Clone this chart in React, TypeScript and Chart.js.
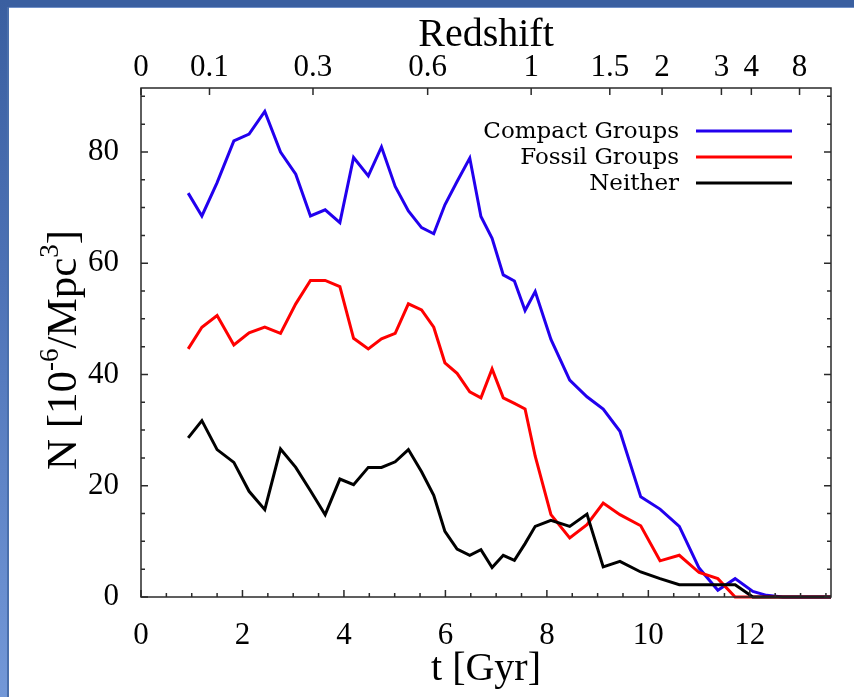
import { useEffect, useRef } from 'react';
import { Chart, registerables } from 'chart.js';

Chart.register(...registerables);

// Lookback time of each snapshot (Gyr)
const timeGyr = [0.93, 1.2, 1.5, 1.83, 2.13, 2.44, 2.75, 3.05, 3.34, 3.63, 3.92, 4.19, 4.48, 4.74, 5.01, 5.27, 5.53, 5.77, 5.99, 6.23, 6.48, 6.7, 6.92, 7.14, 7.36, 7.57, 7.77, 8.08, 8.45, 8.79, 9.11, 9.44, 9.85, 10.23, 10.61, 11.0, 11.37, 11.71, 12.06, 12.33, 12.65, 12.95, 13.25, 13.6];

const compactGroups = [72.6, 68.5, 74.5, 82.0, 83.2, 87.3, 80.0, 76.0, 68.5, 69.6, 67.3, 79.0, 75.7, 80.9, 73.8, 69.4, 66.4, 65.3, 70.5, 74.7, 78.9, 68.4, 64.5, 57.9, 56.8, 51.5, 54.9, 46.3, 39.0, 36.0, 33.8, 29.8, 18.0, 15.8, 12.7, 5.2, 1.2, 3.3, 1.0, 0.3, 0, 0, 0, 0];

const fossilGroups = [44.6, 48.5, 50.6, 45.3, 47.5, 48.5, 47.4, 52.7, 56.9, 56.9, 55.8, 46.5, 44.6, 46.4, 47.4, 52.7, 51.6, 48.5, 42.1, 40.2, 36.9, 35.8, 41.0, 35.8, 34.8, 33.8, 25.3, 14.8, 10.6, 13.0, 16.9, 14.8, 12.8, 6.5, 7.5, 4.4, 3.3, 0, 0, 0, 0, 0, 0, 0];

const neither = [28.6, 31.7, 26.5, 24.2, 19.0, 15.7, 26.6, 23.3, 19.1, 14.8, 21.2, 20.2, 23.3, 23.3, 24.3, 26.5, 22.5, 18.3, 11.8, 8.6, 7.5, 8.5, 5.3, 7.5, 6.6, 9.6, 12.7, 13.8, 12.7, 14.9, 5.4, 6.4, 4.5, 3.3, 2.2, 2.2, 2.2, 2.2, 0, 0, 0, 0, 0, 0];

const seriesNames = ['Compact Groups', 'Fossil Groups', 'Neither'];
const seriesColors = ['#2200ee', '#ff0000', '#000000'];

const xTickValues = [0, 2, 4, 6, 8, 10, 12];
const yTickValues = [0, 20, 40, 60, 80];
const redshiftLabels = ['0', '0.1', '0.3', '0.6', '1', '1.5', '2', '3', '4', '8'];
const redshiftTimes = [0, 1.35, 3.39, 5.65, 7.69, 9.24, 10.27, 11.44, 12.03, 12.98];

const X_MAX = 13.6;
const Y_MAX = 91.5;

const TICK_FONT = { family: 'Liberation Serif', size: 31 };

const framePlugin = {
  id: 'framePlugin',
  afterDraw(chart: any) {
    const { ctx, chartArea: a, scales } = chart;
    ctx.save();
    ctx.strokeStyle = '#2a2a2a';
    ctx.lineWidth = 1.5;
    ctx.strokeRect(a.left, a.top, a.right - a.left, a.bottom - a.top);
    ctx.beginPath();
    // bottom ticks
    for (let i = 0; i * 0.5 <= X_MAX; i++) {
      const x = scales.x.getPixelForValue(i * 0.5);
      const len = i % 4 === 0 ? 7 : 4;
      ctx.moveTo(x, a.bottom);
      ctx.lineTo(x, a.bottom - len);
    }
    // top redshift ticks
    redshiftTimes.forEach((t) => {
      const x = scales.x2.getPixelForValue(t);
      ctx.moveTo(x, a.top);
      ctx.lineTo(x, a.top + 7);
    });
    // left & right ticks
    for (let v = 0; v <= Y_MAX; v += 5) {
      const y = scales.y.getPixelForValue(v);
      const len = v % 20 === 0 ? 7 : 4;
      ctx.moveTo(a.left, y);
      ctx.lineTo(a.left + len, y);
      ctx.moveTo(a.right, y);
      ctx.lineTo(a.right - len, y);
    }
    ctx.stroke();

    // Legend
    const legendY = [131, 157, 183];
    ctx.font = '23px "DejaVu Serif"';
    ctx.textAlign = 'right';
    ctx.textBaseline = 'middle';
    ctx.fillStyle = '#000';
    seriesNames.forEach((name, i) => {
      ctx.fillText(name, 679, legendY[i] + 1);
      ctx.beginPath();
      ctx.strokeStyle = seriesColors[i];
      ctx.lineWidth = 3;
      ctx.moveTo(696, legendY[i]);
      ctx.lineTo(792, legendY[i]);
      ctx.stroke();
    });

    // Axis titles
    ctx.fillStyle = '#000';
    ctx.textBaseline = 'alphabetic';
    ctx.textAlign = 'center';
    ctx.font = '40px "Liberation Serif"';
    const cx = (a.left + a.right) / 2;
    ctx.fillText('Redshift', cx, 46);
    ctx.fillText('t [Gyr]', cx, 680);

    // Y title with superscripts
    const parts: [string, boolean][] = [
      ['N [10', false],
      ['-6', true],
      ['/Mpc', false],
      ['3', true],
      [']', false],
    ];
    const mainFont = '43px "Liberation Serif"';
    const supFont = '27px "Liberation Serif"';
    let total = 0;
    const widths = parts.map(([s, sup]) => {
      ctx.font = sup ? supFont : mainFont;
      const w = ctx.measureText(s).width;
      total += w;
      return w;
    });
    ctx.translate(76, 350);
    ctx.rotate(-Math.PI / 2);
    ctx.textAlign = 'left';
    let px = -total / 2;
    parts.forEach(([s, sup], i) => {
      ctx.font = sup ? supFont : mainFont;
      ctx.fillText(s, px, sup ? -18 : 0);
      px += widths[i];
    });
    ctx.restore();
  },
};

export default function App() {
  const ref = useRef<HTMLCanvasElement>(null);

  useEffect(() => {
    const series = [compactGroups, fossilGroups, neither];
    const chart = new Chart(ref.current as HTMLCanvasElement, {
      type: 'line',
      data: {
        datasets: series.map((vals, i) => ({
          label: seriesNames[i],
          data: timeGyr.map((t, j) => ({ x: t, y: vals[j] })),
          borderColor: seriesColors[i],
          backgroundColor: seriesColors[i],
          borderWidth: 3,
          pointRadius: 0,
          tension: 0,
          fill: false,
          clip: 6,
          order: 2 - i,
        })),
      },
      options: {
        responsive: false,
        animation: false,
        devicePixelRatio: 1,
        layout: { padding: { left: 0, right: 23, top: 0, bottom: 0 } },
        plugins: { legend: { display: false }, tooltip: { enabled: false } },
        scales: {
          x: {
            type: 'linear',
            position: 'bottom',
            min: 0,
            max: X_MAX,
            grid: { display: false },
            border: { display: false },
            afterBuildTicks: (s: any) => {
              s.ticks = xTickValues.map((v) => ({ value: v }));
            },
            afterFit: (s: any) => {
              s.height = 100;
            },
            ticks: {
              autoSkip: false,
              maxRotation: 0,
              padding: 12,
              color: '#000',
              font: TICK_FONT,
              callback: (v: any) => String(v),
            },
          },
          x2: {
            type: 'linear',
            position: 'top',
            min: 0,
            max: X_MAX,
            grid: { display: false },
            border: { display: false },
            afterBuildTicks: (s: any) => {
              s.ticks = redshiftTimes.map((v) => ({ value: v }));
            },
            afterFit: (s: any) => {
              s.height = 88;
            },
            ticks: {
              autoSkip: false,
              maxRotation: 0,
              padding: -6,
              color: '#000',
              font: TICK_FONT,
              callback: (_v: any, i: number) => redshiftLabels[i],
            },
          },
          y: {
            type: 'linear',
            position: 'left',
            min: 0,
            max: Y_MAX,
            grid: { display: false },
            border: { display: false },
            afterBuildTicks: (s: any) => {
              s.ticks = yTickValues.map((v) => ({ value: v }));
            },
            afterFit: (s: any) => {
              s.width = 141;
            },
            ticks: {
              padding: 14,
              color: '#000',
              font: TICK_FONT,
              callback: (v: any) => String(v),
            },
          },
        },
      },
      plugins: [framePlugin],
    } as any);
    return () => chart.destroy();
  }, []);

  return (
    <div
      style={{
        position: 'fixed',
        left: 0,
        top: 0,
        width: 854,
        height: 697,
        background: '#ffffff',
        overflow: 'hidden',
      }}
    >
      <div style={{ position: 'absolute', left: 0, top: 0, width: 854, height: 7, background: '#3a5fa0' }} />
      <div style={{ position: 'absolute', left: 9, top: 7, width: 845, height: 1, background: '#7090c8' }} />
      <div
        style={{
          position: 'absolute',
          left: 0,
          top: 0,
          width: 7,
          height: 697,
          background: 'linear-gradient(#3a5fa0 0%, #4d72b6 40%, #7398d8 100%)',
        }}
      />
      <div style={{ position: 'absolute', left: 7, top: 7, width: 2, height: 690, background: '#4a6fab' }} />
      <canvas
        ref={ref}
        width={854}
        height={697}
        style={{ position: 'absolute', left: 0, top: 0, width: 854, height: 697 }}
      />
    </div>
  );
}
